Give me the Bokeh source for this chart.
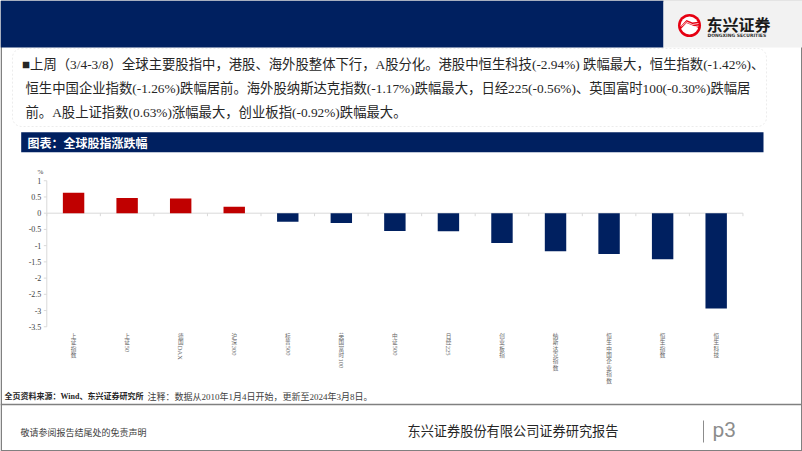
import re
import numpy as np
from bokeh.plotting import figure
from bokeh.models import Range1d, BoxAnnotation, ColumnDataSource
from bokeh.core.properties import value
from bokeh.embed import file_html
from bokeh.resources import INLINE

# ---------------- data ----------------
categories = ["上证指数", "上证50", "德国DAX", "沪深300", "标普500", "英国富时100",
              "中证500", "日经225", "创业板指", "纳斯达克指数", "恒生中国企业指数",
              "恒生指数", "恒生科技"]
changes = [0.63, 0.47, 0.45, 0.20, -0.26, -0.30, -0.55, -0.56, -0.92, -1.17,
           -1.26, -1.42, -2.94]
y_ticks = [1, 0.5, 0, -0.5, -1, -1.5, -2, -2.5, -3, -3.5]
y_tick_labels = ["1", "0.5", "0", "-0.5", "-1", "-1.5", "-2", "-2.5", "-3", "-3.5"]
unit_label = "%"

summary_lines = [
    "■上周（3/4-3/8）全球主要股指中，港股、海外股整体下行，A股分化。港股中恒生科技(-2.94%) 跌幅最大，恒生指数(-1.42%)、",
    "恒生中国企业指数(-1.26%)跌幅居前。海外股纳斯达克指数(-1.17%)跌幅最大，日经225(-0.56%)、英国富时100(-0.30%)跌幅居",
    "前。A股上证指数(0.63%)涨幅最大，创业板指(-0.92%)跌幅最大。",
]
chart_title = "图表：全球股指涨跌幅"
source_bold = "全页资料来源：Wind、东兴证券研究所"
source_note = "注释：数据从2010年1月4日开始，更新至2024年3月8日。"
footer_left = "敬请参阅报告结尾处的免责声明"
footer_mid = "东兴证券股份有限公司证券研究报告"
page_no = "p3"
logo_cn = "东兴证券"
logo_en = "DONGXING SECURITIES"

# ---------------- layout (pixels) ----------------
W, H = 802, 451
NAVY = "#002060"
RED = "#C00000"
ZERO_PX = 212.7
PX_PER_UNIT = 32.45
AXIS_PX = 46.3
CAT_PX = 53.55
BAR_W = 0.4
SERIF = value("Liberation Serif, Noto Sans CJK SC")
CJK = value("Noto Sans CJK SC")

p = figure(width=W, height=H, x_range=Range1d(0, W), y_range=Range1d(H, 0),
           output_backend="svg", toolbar_location=None,
           x_axis_type=None, y_axis_type=None, min_border=0,
           outline_line_color=None, background_fill_color="white",
           border_fill_color="white")
p.extra_y_ranges = {"val": Range1d(-(H - ZERO_PX) / PX_PER_UNIT, ZERO_PX / PX_PER_UNIT)}
p.extra_x_ranges = {"cat": Range1d(-AXIS_PX / CAT_PX, (W - AXIS_PX) / CAT_PX)}

# slide border
p.quad(left=0.75, right=W - 0.75, top=0.75, bottom=H - 0.75, fill_alpha=0,
       line_color="#808080", line_width=1.5)

# header
p.quad(left=0, right=663, top=0, bottom=47, fill_color=NAVY, line_color=None)
p.quad(left=663, right=W, top=0, bottom=47, fill_color="#f2f2f2", line_color=None)
# logo
p.circle(x=[689], y=[25], radius=11.5, fill_color="#e60012", line_color=None)
p.circle(x=[689], y=[25], radius=9, fill_color="white", line_color=None)
p.patch(x=[679, 686, 692, 699.5, 699.5, 692, 686, 679],
        y=[27, 19.5, 22, 21, 28, 25, 22.5, 30], fill_color="#e60012", line_color=None)
p.multi_line(xs=[[681, 686, 692, 698], [682, 687, 692, 698]],
             ys=[[26, 21.5, 24, 23], [28.5, 24, 26.5, 25.5]], line_color="white", line_width=0.8)
p.text(x=[706], y=[23], text=[logo_cn], text_font=CJK, text_font_style="bold",
       text_font_size="16px", text_color="#1a1a1a", text_baseline="middle")
p.text(x=[707], y=[35], text=[logo_en], text_font=value("DejaVu Sans"), text_font_style="bold",
       text_font_size="4.5px", text_color="#333333", text_baseline="middle")

# summary box
p.add_layout(BoxAnnotation(left=12, right=766, top=48, bottom=126, fill_alpha=0,
                           line_color="#bfbfbf", line_dash="2 2", line_width=1,
                           border_radius=9))
p.text(x=[21.5, 25, 25], y=[64, 88, 112], text=summary_lines, text_font=SERIF,
       text_font_size="13.35px", text_color="#262626", text_baseline="middle")

# chart title bar
p.quad(left=20.7, right=763, top=131.7, bottom=151.7, fill_color=NAVY, line_color=None)
p.text(x=[27], y=[141.7], text=[chart_title], text_font=CJK, text_font_style="bold",
       text_font_size="12px", text_color="white", text_baseline="middle")

# ---------------- chart ----------------
n = len(categories)
x_idx = np.arange(n) + 0.5
src = ColumnDataSource(dict(x=x_idx, top=changes,
                            color=[RED if v >= 0 else NAVY for v in changes]))
# zero line + category boundary ticks
p.segment(x0=[0], x1=[n], y0=[0], y1=[0], x_range_name="cat", y_range_name="val",
          line_color="#d9d9d9", line_width=1)
p.segment(x0=np.arange(n + 1), x1=np.arange(n + 1), y0=0, y1=-3 / PX_PER_UNIT,
          x_range_name="cat", y_range_name="val", line_color="#d9d9d9", line_width=1)
p.vbar(x="x", top="top", bottom=0, width=BAR_W, fill_color="color", line_color=None,
       source=src, x_range_name="cat", y_range_name="val")

# y axis
p.segment(x0=[AXIS_PX], x1=[AXIS_PX], y0=[max(y_ticks)], y1=[min(y_ticks)],
          y_range_name="val", line_color="#d9d9d9", line_width=1)
p.segment(x0=AXIS_PX - 3, x1=AXIS_PX, y0=y_ticks, y1=y_ticks, y_range_name="val",
          line_color="#d9d9d9", line_width=1)
p.text(x=[AXIS_PX - 5.5] * len(y_ticks), y=y_ticks, text=y_tick_labels, y_range_name="val",
       text_align="right", text_baseline="middle", text_font=value("Liberation Serif"),
       text_font_size="8px", text_color="#404040")
p.text(x=[AXIS_PX - 6.5], y=[max(y_ticks) + 0.27], text=[unit_label], y_range_name="val",
       text_align="center", text_baseline="middle", text_font=value("Liberation Serif"),
       text_font_size="7px", text_color="#404040")

# vertical category labels (CJK upright, latin runs rotated)
LABEL_TOP = 332
CHAR_STEP = 6.4
cx, cy, ct, rx, ry, rt = [], [], [], [], [], []
for i, name in enumerate(categories):
    k = 0
    for seg in re.findall(r"[A-Za-z0-9]+|.", name):
        if seg.isascii():
            rx.append(i + 0.5); ry.append(LABEL_TOP + k * CHAR_STEP + 0.5); rt.append(seg)
        else:
            cx.append(i + 0.5); cy.append(LABEL_TOP + k * CHAR_STEP + CHAR_STEP / 2); ct.append(seg)
            k += 1
p.text(x=cx, y=cy, text=ct, x_range_name="cat", text_align="center", text_baseline="middle",
       text_font=CJK, text_font_size="5.6px", text_color="#666666")
p.text(x=rx, y=ry, text=rt, x_range_name="cat", angle=-np.pi / 2, text_align="left",
       text_baseline="middle", text_font=value("Liberation Serif"), text_font_size="6.5px",
       text_color="#666666")

# source line
p.text(x=[4], y=[396], text=[source_bold], text_font=SERIF, text_font_style="bold",
       text_font_size="8px", text_color="#262626", text_baseline="middle")
p.text(x=[147], y=[396], text=[source_note], text_font=SERIF,
       text_font_size="9px", text_color="#404040", text_baseline="middle")

# footer
p.segment(x0=[0], x1=[W], y0=[404], y1=[404], line_color="#808080", line_width=1.5)
p.text(x=[20], y=[432], text=[footer_left], text_font=CJK, text_font_size="9px",
       text_color="#404040", text_baseline="middle")
p.text(x=[407], y=[430], text=[footer_mid], text_font=CJK, text_font_size="13.2px",
       text_color="#262626", text_baseline="middle")
p.segment(x0=[703], x1=[703], y0=[420], y1=[442], line_color="#8c8c8c", line_width=1)
p.text(x=[712], y=[429], text=[page_no], text_font=value("Roboto"), text_font_size="21px",
       text_color="#8c8c8c", text_baseline="middle")

open("out.html", "w").write(file_html(p, INLINE))
